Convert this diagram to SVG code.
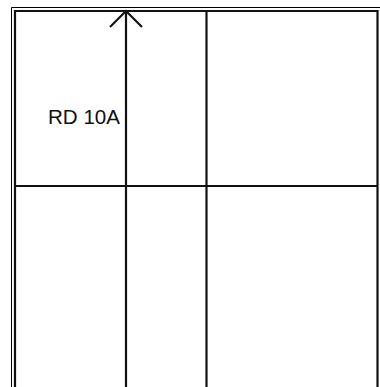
<svg xmlns="http://www.w3.org/2000/svg" width="380" height="387" viewBox="0 0 380 387">
<style>
.thin{stroke:#000;stroke-width:1;fill:none}
.wall{stroke:#111;stroke-width:2.2;fill:none}
.lbl{font-family:"Liberation Sans",Arial,sans-serif;font-size:20px;fill:#111}
</style>
<rect width="380" height="387" fill="#fff"/>
<g id="frame">
<path class="thin" d="M11.5,387 V7.5 H380"/>
<path class="wall" d="M15,387 V11 H377.5 V387"/>
</g>
<g id="grid">
<line class="wall" x1="15" y1="186" x2="378" y2="186"/>
<line class="wall" x1="206.5" y1="11" x2="206.5" y2="387"/>
</g>
<g id="connectors">
<line class="wall" x1="126" y1="11" x2="126" y2="387"/>
<path class="wall" d="M110,27 L126,11 L142,27"/>
</g>
<g id="label">
<text class="lbl" x="48" y="124" textLength="72" lengthAdjust="spacingAndGlyphs">RD 10A</text>
</g>
</svg>
